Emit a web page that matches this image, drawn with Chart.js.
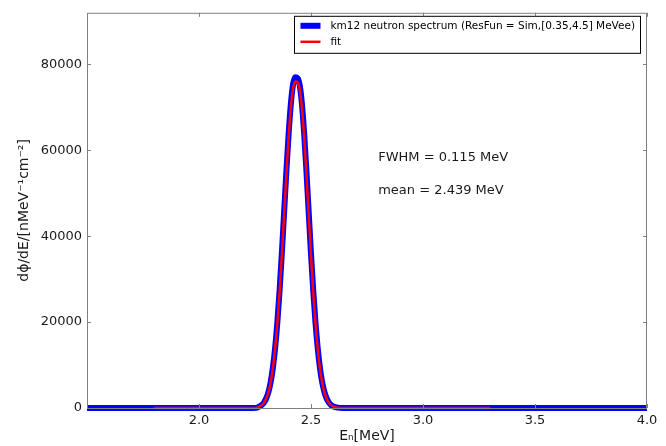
<!DOCTYPE html>
<html>
<head>
<meta charset="utf-8">
<script src="https://cdn.jsdelivr.net/npm/chart.js@4"></script>
<style>
  html, body { margin: 0; padding: 0; background: #fff; }
  #wrap { width: 666px; height: 446px; }
</style>
</head>
<body>
<div id="wrap"><canvas id="spectrumChart" width="666" height="446"></canvas></div>
<script>
// measured spectrum (blue) - energy in MeV, flux
const specE = [1.50, 2.00, 2.20, 2.24, 2.26, 2.27, 2.28, 2.29, 2.30, 2.31, 2.32, 2.33, 2.34, 2.35, 2.36, 2.37, 2.38, 2.39, 2.40, 2.41, 2.42, 2.43, 2.44,
  2.45, 2.46, 2.47, 2.48, 2.49, 2.50, 2.51, 2.52, 2.53, 2.54, 2.55, 2.56, 2.57, 2.58, 2.59, 2.60, 2.62, 2.64, 3.00, 3.50, 4.00];
const specFlux = [0, 0, 0, 0, 85, 360, 680, 1260, 2220, 3740, 6070, 9430, 14050, 20080, 27520, 36170, 45570, 55040, 63740, 70780, 75390, 77000, 76800,
  75000, 70500, 63500, 54800, 45300, 35900, 27300, 19900, 13900, 9300, 6000, 3700, 2200, 1250, 670, 350, 80, 0, 0, 0, 0];

// gaussian fit (red)
const fitE = [1.80, 2.20, 2.24, 2.26, 2.27, 2.28, 2.29, 2.30, 2.31, 2.32, 2.33, 2.34, 2.35, 2.36, 2.37, 2.38, 2.39, 2.40, 2.41, 2.42, 2.43, 2.44,
  2.45, 2.46, 2.47, 2.48, 2.49, 2.50, 2.51, 2.52, 2.53, 2.54, 2.55, 2.56, 2.57, 2.58, 2.59, 2.60, 2.62, 2.64, 3.00, 3.30];
const fitFlux = [0, 0, 0, 80, 350, 670, 1240, 2190, 3690, 5990, 9310, 13870, 19820, 27160, 35700, 44980, 54320, 62910, 69860, 74410, 76000, 75800,
  74000, 69500, 62600, 54000, 44700, 35400, 26900, 19600, 13700, 9200, 5900, 3650, 2170, 1230, 660, 340, 75, 0, 0, 0];

const xTicks = [2.0, 2.5, 3.0, 3.5, 4.0];
const yTicks = [0, 20000, 40000, 60000, 80000];
const seriesLabels = ['km12 neutron spectrum (ResFun = Sim,[0.35,4.5] MeVee)', 'fit'];
const notes = [
  { x: 2.80, y: 58400, text: 'FWHM = 0.115 MeV' },
  { x: 2.80, y: 50600, text: 'mean = 2.439 MeV' }
];

const FONT = "'DejaVu Sans', sans-serif";

// frame, inward ticks, notes and a boxed legend like the original plot
const framePlugin = {
  id: 'frame',
  afterDraw(chart) {
    const ctx = chart.ctx;
    const a = chart.chartArea;
    const xs = chart.scales.x, ys = chart.scales.y;
    ctx.save();
    ctx.strokeStyle = '#808080';
    ctx.lineWidth = 1;
    ctx.strokeRect(a.left + 0.5, a.top + 0.5, a.right - a.left - 1, a.bottom - a.top);
    ctx.beginPath();
    xTicks.forEach(v => {
      const px = Math.round(xs.getPixelForValue(v)) + 0.5;
      ctx.moveTo(px, a.bottom); ctx.lineTo(px, a.bottom - 4);
      ctx.moveTo(px, a.top); ctx.lineTo(px, a.top + 4);
    });
    yTicks.forEach(v => {
      const py = Math.round(ys.getPixelForValue(v)) + 0.5;
      ctx.moveTo(a.left, py); ctx.lineTo(a.left + 4, py);
      ctx.moveTo(a.right, py); ctx.lineTo(a.right - 4, py);
    });
    ctx.stroke();

    ctx.fillStyle = '#1a1a1a';
    ctx.font = '13px ' + FONT;
    ctx.textBaseline = 'middle';
    ctx.textAlign = 'left';
    notes.forEach(n => ctx.fillText(n.text, xs.getPixelForValue(n.x), ys.getPixelForValue(n.y)));

    // legend box
    ctx.font = '10.5px ' + FONT;
    const sets = chart.data.datasets;
    let tw = 0;
    sets.forEach(d => { tw = Math.max(tw, ctx.measureText(d.label).width); });
    const bw = 6 + 20 + 10 + tw + 5;
    const bh = 37;
    const bx = a.right - 7 - bw;
    const by = a.top + 3;
    ctx.fillStyle = '#fff';
    ctx.fillRect(bx, by, bw, bh);
    ctx.strokeStyle = '#000';
    ctx.strokeRect(Math.round(bx) + 0.5, by + 0.5, Math.round(bw), bh);
    sets.forEach((d, i) => {
      const ly = by + 10 + i * 16;
      ctx.strokeStyle = d.borderColor;
      ctx.lineWidth = d.borderWidth;
      ctx.beginPath();
      ctx.moveTo(bx + 6, ly); ctx.lineTo(bx + 26, ly);
      ctx.stroke();
      ctx.fillStyle = '#000';
      ctx.fillText(d.label, bx + 36, ly);
    });
    ctx.restore();
  }
};

const ctx = document.getElementById('spectrumChart').getContext('2d');
new Chart(ctx, {
  type: 'line',
  data: {
    datasets: [
      {
        label: seriesLabels[0],
        data: specE.map((e, i) => ({ x: e, y: specFlux[i] })),
        borderColor: '#0000ff',
        borderWidth: 6,
        pointRadius: 0,
        cubicInterpolationMode: 'monotone',
        order: 2,
        clip: 4
      },
      {
        label: seriesLabels[1],
        data: fitE.map((e, i) => ({ x: e, y: fitFlux[i] })),
        borderColor: '#ff0000',
        borderWidth: 2.5,
        pointRadius: 0,
        cubicInterpolationMode: 'monotone',
        order: 1,
        clip: 4
      }
    ]
  },
  options: {
    responsive: false,
    animation: false,
    layout: { padding: { top: 7, right: 19, left: 0, bottom: 0 } },
    plugins: {
      legend: { display: false },
      tooltip: { enabled: false }
    },
    scales: {
      x: {
        type: 'linear',
        min: 1.5,
        max: 4.0,
        afterBuildTicks: s => { s.ticks = xTicks.map(v => ({ value: v })); },
        afterFit: s => { s.height = 38; },
        grid: { display: false, drawTicks: false },
        border: { display: false },
        ticks: {
          color: '#1a1a1a',
          font: { family: FONT, size: 13 },
          padding: 5,
          maxRotation: 0,
          callback: v => Number(v).toFixed(1)
        },
        title: {
          display: true,
          text: 'Eₙ[MeV]',
          color: '#1a1a1a',
          font: { family: FONT, size: 14 },
          padding: { top: 0, bottom: 1 }
        }
      },
      y: {
        min: 0,
        max: 92000,
        afterBuildTicks: s => { s.ticks = yTicks.map(v => ({ value: v })); },
        afterFit: s => { s.width = 87; },
        grid: { display: false, drawTicks: false },
        border: { display: false },
        ticks: {
          color: '#1a1a1a',
          font: { family: FONT, size: 13 },
          padding: 5,
          callback: v => String(v)
        },
        title: {
          display: true,
          text: 'dϕ/dE/[nMeV⁻¹cm⁻²]',
          color: '#1a1a1a',
          font: { family: FONT, size: 14 },
          padding: { top: 16, bottom: 0 }
        }
      }
    }
  },
  plugins: [framePlugin]
});
</script>
</body>
</html>
